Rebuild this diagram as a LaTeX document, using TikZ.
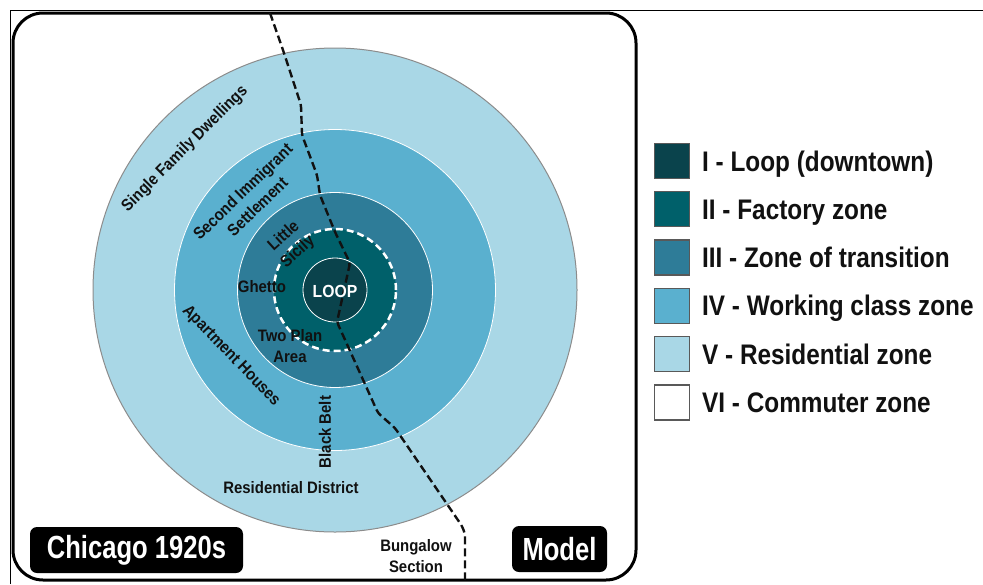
\documentclass[tikz,border=0pt]{standalone}
\usepackage{fontspec}
\setmainfont{Liberation Sans}
\newfontfamily\lblfont[FakeStretch=0.9]{Liberation Sans}
\newfontfamily\legfont[FakeStretch=0.86]{Liberation Sans}
\newfontfamily\tagfont[FakeStretch=0.8]{Liberation Sans}
\definecolor{zoneI}{HTML}{0A434C}
\definecolor{zoneII}{HTML}{00606A}
\definecolor{zoneIII}{HTML}{2E7C98}
\definecolor{zoneIV}{HTML}{5AB0CF}
\definecolor{zoneV}{HTML}{A9D7E6}
\definecolor{inkc}{HTML}{111111}
\begin{document}
\begin{tikzpicture}[x=1pt,y=-1pt,
  lbl/.style={font=\lblfont\bfseries\fontsize{16.6}{21}\selectfont, text=inkc, align=center, inner sep=0pt},
  legbox/.style={draw=black!65, line width=1.3pt, minimum width=35pt, minimum height=35pt, inner sep=0pt},
  legtxt/.style={anchor=base west, font=\legfont\bfseries\fontsize{28.3}{30}\selectfont, text=inkc, inner sep=0pt},
  tag/.style={fill=black, rounded corners=7pt, text=white, font=\tagfont\bfseries\fontsize{32}{34}\selectfont, inner sep=0pt, minimum height=46pt},
  ring/.style={circle, inner sep=0pt, draw=white, line width=0.8pt},
  route/.style={line width=2.4pt, dash pattern=on 8pt off 4pt, color=inkc, rounded corners=3pt}
]
\useasboundingbox (0,0) rectangle (983,584);
\fill[white] (0,0) rectangle (983,584);
\draw[line width=1pt] (10,584) -- (10,10) -- (983,10);
\draw[line width=3pt, rounded corners=30pt] (13,13) rectangle (636,580);

% zones
\node[ring, fill=zoneV, draw=black!45, line width=1pt, minimum size=484pt] (zV) at (335,290) {};
\node[ring, fill=zoneIV, minimum size=321pt] (zIV) at (335,290) {};
\node[ring, fill=zoneIII, minimum size=195pt] (zIII) at (335,290) {};
\node[circle, inner sep=0pt, fill=zoneII, minimum size=122pt] (zII) at (335,290) {};
\draw[white, line width=2.5pt, dash pattern=on 7pt off 4pt] (zII.center) circle[radius=61pt];
\node[ring, fill=zoneI, minimum size=64pt] (zI) at (335,290) {};

% route
\draw[route] (270,13) -- (283,50) -- (301,105) -- (302,135) -- (317,175) -- (320,195)
  -- (335,232) -- (350,263) -- (337,322) -- (378,413) -- (395,428) -- (462,526) -- (465,534) -- (465,580);

% labels
\node[lbl, text=white, font=\lblfont\bfseries\fontsize{17.5}{21}\selectfont] (loop) at (335,291) {LOOP};
\node[lbl, rotate=45] (sfd) at (185,149) {Single Family Dwellings};
\node[lbl, rotate=44] (sis) at (250,199) {Second Immigrant\\Settlement};
\node[lbl, rotate=42] (ls) at (291,244) {Little\\Sicily};
\node[lbl] (gh) at (262,287) {Ghetto};
\node[lbl] (tpa) at (290,346) {Two Plan\\Area};
\node[lbl, rotate=-46] (ah) at (231,356) {Apartment Houses};
\node[lbl, rotate=90] (bb) at (325,432) {Black Belt};
\node[lbl] (rd) at (291,488) {Residential District};
\node[lbl] (bs) at (416,556) {Bungalow\\Section};

% tags
\node[tag, minimum width=213pt] (chi) at (136.5,550) {Chicago 1920s};
\node[tag, minimum width=95pt] (mod) at (559.5,549) {Model};

% legend
\node[legbox, fill=zoneI] (b1) at (672,161) {};
\node[legbox, fill=zoneII] (b2) at (672,209.3) {};
\node[legbox, fill=zoneIII] (b3) at (672,257.6) {};
\node[legbox, fill=zoneIV] (b4) at (672,305.9) {};
\node[legbox, fill=zoneV] (b5) at (672,354.2) {};
\node[legbox, fill=white] (b6) at (672,402.5) {};
\node[legtxt] (t1) at (702,171) {I - Loop (downtown)};
\node[legtxt] (t2) at (702,219.3) {II - Factory zone};
\node[legtxt] (t3) at (702,267.6) {III - Zone of transition};
\node[legtxt] (t4) at (702,315.9) {IV - Working class zone};
\node[legtxt] (t5) at (702,364.2) {V - Residential zone};
\node[legtxt] (t6) at (702,412.5) {VI - Commuter zone};
\end{tikzpicture}
\end{document}
